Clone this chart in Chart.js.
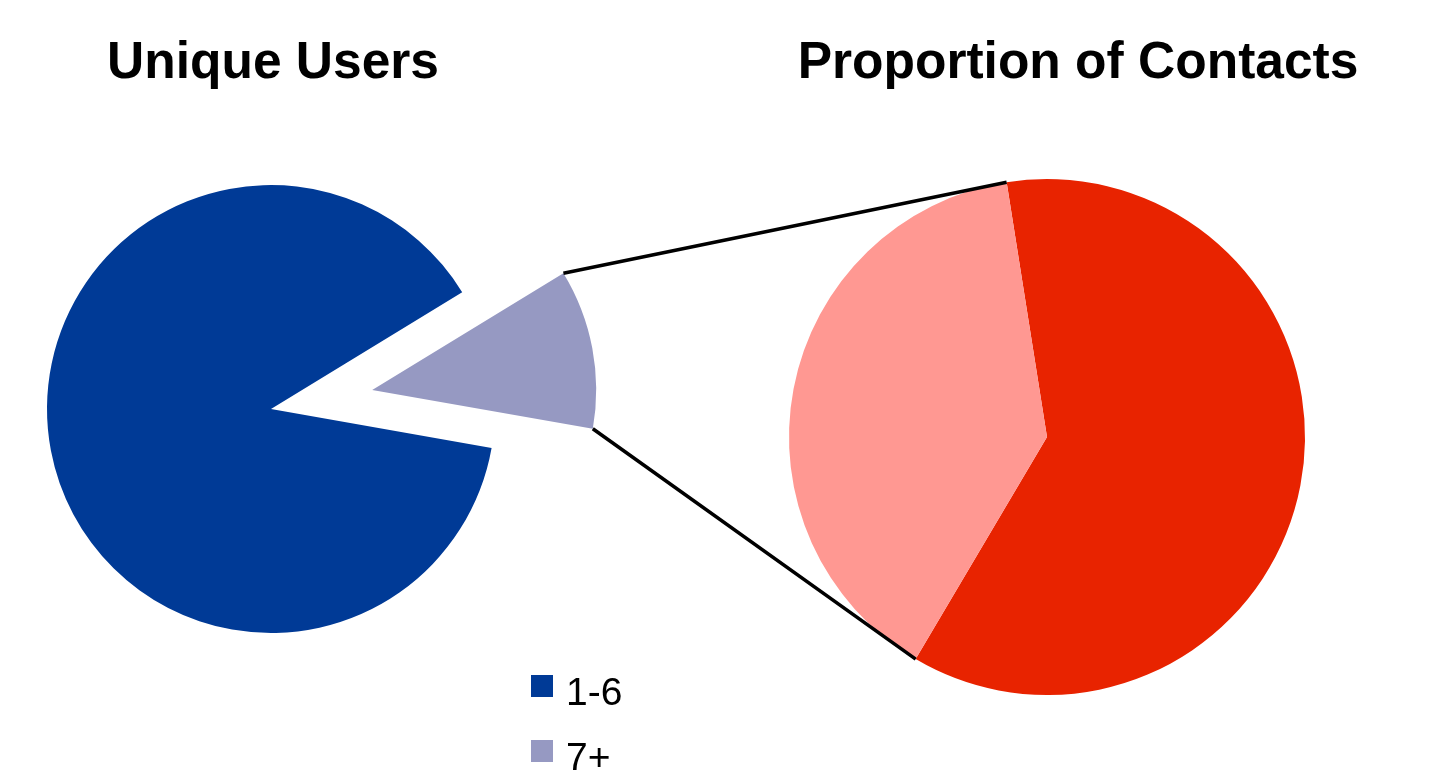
<!DOCTYPE html>
<html>
<head>
<meta charset="utf-8">
<title>Unique Users / Proportion of Contacts</title>
<script src="https://cdn.jsdelivr.net/npm/chart.js@4.4.1/dist/chart.umd.min.js"></script>
<style>
  html, body { margin: 0; padding: 0; background: #fff; }
  #wrap {
    position: relative; width: 1433px; height: 770px; overflow: hidden;
    font-family: "Liberation Sans", Arial, Helvetica, sans-serif; color: #000;
  }
  #wrap canvas { position: absolute; left: 0; top: 0; }
  .title {
    position: absolute; top: 35px; font-weight: bold; font-size: 51.5px;
    line-height: 51.5px; white-space: nowrap; transform: translateX(-50%);
  }
  .lg-box { position: absolute; width: 22px; height: 22px; }
  .lg-text { position: absolute; font-size: 39px; line-height: 39px; white-space: nowrap; }
</style>
</head>
<body>
<div id="wrap">
  <canvas id="users" width="1433" height="770"></canvas>
  <canvas id="contacts" width="1433" height="770"></canvas>
  <div class="title" style="left:273px">Unique Users</div>
  <div class="title" style="left:1078px">Proportion of Contacts</div>
  <div id="legend"></div>
</div>
<script>
// data
const usersLabels = ["1-6", "7+"];
const usersValues = [88.5, 11.5];
const usersColors = ["#003a96", "#9699c2"];

const contactsLabels = ["1-6", "7+"];
const contactsValues = [61, 39];
const contactsColors = ["#e82300", "#ff9892"];

// how far each slice of the left pie is pulled out (px)
const usersExplode = [0, 103];

function explodedCenter(arc, d) {
  const mid = (arc.startAngle + arc.endAngle) / 2;
  return { x: arc.x + Math.cos(mid) * d, y: arc.y + Math.sin(mid) * d };
}

function shiftArcs(chart, sign) {
  chart.getDatasetMeta(0).data.forEach((arc, i) => {
    const d = usersExplode[i] || 0;
    const mid = (arc.startAngle + arc.endAngle) / 2;
    arc.x += sign * Math.cos(mid) * d;
    arc.y += sign * Math.sin(mid) * d;
  });
}

const explodePlugin = {
  id: "explode",
  beforeDatasetsDraw(chart) { shiftArcs(chart, 1); },
  afterDatasetsDraw(chart) { shiftArcs(chart, -1); }
};

let usersChart = null;

// lines from the pulled-out slice to the edges of the second pie
const connectorPlugin = {
  id: "connector",
  afterDatasetsDraw(chart) {
    if (!usersChart) return;
    const a = usersChart.getDatasetMeta(0).data[1];
    const b = chart.getDatasetMeta(0).data[1];
    const c = explodedCenter(a, usersExplode[1]);
    const r = a.outerRadius;
    const ctx = chart.ctx;
    ctx.save();
    ctx.strokeStyle = "#000";
    ctx.lineWidth = 3.5;
    ctx.beginPath();
    ctx.moveTo(c.x + Math.cos(a.startAngle) * r, c.y + Math.sin(a.startAngle) * r);
    ctx.lineTo(b.x + Math.cos(b.endAngle) * b.outerRadius, b.y + Math.sin(b.endAngle) * b.outerRadius);
    ctx.moveTo(c.x + Math.cos(a.endAngle) * r, c.y + Math.sin(a.endAngle) * r);
    ctx.lineTo(b.x + Math.cos(b.startAngle) * b.outerRadius, b.y + Math.sin(b.startAngle) * b.outerRadius);
    ctx.stroke();
    ctx.restore();
  }
};

const common = {
  responsive: false,
  animation: false,
  events: [],
  plugins: { legend: { display: false }, tooltip: { enabled: false } }
};

usersChart = new Chart(document.getElementById("users"), {
  type: "pie",
  data: {
    labels: usersLabels,
    datasets: [{
      data: usersValues,
      backgroundColor: usersColors,
      borderWidth: 0,
      hoverOffset: 0,
      clip: false
    }]
  },
  options: Object.assign({}, common, {
    rotation: 100,
    radius: 224,
    layout: { padding: { left: 0, right: 891, top: 100, bottom: 52 } }
  }),
  plugins: [explodePlugin]
});

new Chart(document.getElementById("contacts"), {
  type: "pie",
  data: {
    labels: contactsLabels,
    datasets: [{
      data: contactsValues,
      backgroundColor: contactsColors,
      borderWidth: 0,
      hoverOffset: 0,
      clip: false
    }]
  },
  options: Object.assign({}, common, {
    rotation: -9,
    radius: 258,
    layout: { padding: { left: 661, right: 0, top: 130, bottom: 26 } }
  }),
  plugins: [connectorPlugin]
});

// legend for the left pie
const legend = document.getElementById("legend");
usersLabels.forEach((label, i) => {
  const box = document.createElement("div");
  box.className = "lg-box";
  box.style.left = "531px";
  box.style.top = (675 + i * 65) + "px";
  box.style.background = usersColors[i];
  legend.appendChild(box);
  const txt = document.createElement("div");
  txt.className = "lg-text";
  txt.style.left = "566px";
  txt.style.top = (672 + i * 65) + "px";
  txt.textContent = label;
  legend.appendChild(txt);
});
</script>
</body>
</html>
